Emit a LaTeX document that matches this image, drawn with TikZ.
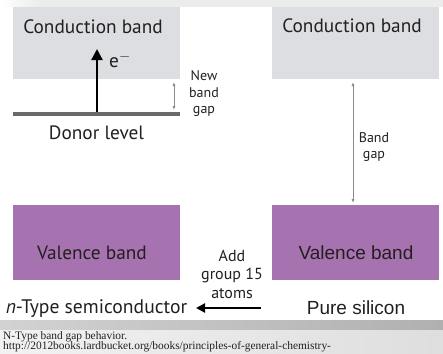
\documentclass[tikz,border=0pt]{standalone}
\usepackage{fontspec}
\setmainfont{Liberation Serif}
\newfontfamily\myr{PT Sans}
\newfontfamily\ari{Liberation Sans}
\usetikzlibrary{arrows.meta}
\definecolor{cbgray}{HTML}{DCDEE2}
\definecolor{vbpurp}{HTML}{A673B0}
\definecolor{donorgray}{HTML}{6A6A6A}
\definecolor{gaparrow}{HTML}{8A8A8A}
\definecolor{txt}{HTML}{231F20}
\tikzset{
  cband/.style={fill=cbgray, draw=none, minimum width=167pt, minimum height=72pt, inner sep=0pt},
  vband/.style={fill=vbpurp, draw=none, minimum width=167pt, minimum height=75pt, inner sep=0pt},
  mlabel/.style={font=\myr\fontsize{19.3}{22}\selectfont, inner sep=0pt, text=txt},
  alabel/.style={font=\ari\fontsize{19}{21}\selectfont, inner sep=0pt, text=txt},
  slabel/.style={font=\myr\fontsize{14}{16.5}\selectfont, inner sep=0pt, align=center, text=txt},
  gapar/.style={draw=gaparrow, line width=0.8pt, {Latex[length=4pt,width=3pt]}-{Latex[length=4pt,width=3pt]}},
  bigar/.style={draw=black, line width=2.2pt, -{Triangle[length=9pt,width=9pt]}},
  caption/.style={font=\fontsize{11.4}{12}\selectfont, inner sep=0pt, anchor=base west, text=txt}
}
\begin{document}
\begin{tikzpicture}[x=1pt,y=-1pt]
\useasboundingbox (0,0) rectangle (443,353);
% top strip
\shade[left color=white, right color=gray!15] (0,0) rectangle (40,7);
\fill[gray!15] (40,0) rectangle (443,7);
% bands
\node[cband] (lcb) at (96.5,43) {};
\node[cband] (rcb) at (355.5,43) {};
\node[vband] (lvb) at (96.5,242.5) {};
\node[vband] (rvb) at (355.5,242.5) {};
% band labels
\node[mlabel] (lcbt) at (93,27) {Conduction band};
\node[mlabel] (rcbt) at (352,26) {Conduction band};
\node[mlabel] (lvbt) at (92,253) {Valence band};
\node[alabel] (rvbt) at (356,253) {Valence band};
% donor level
\coordinate (dl1) at (13,114);
\coordinate (dl2) at (180,114);
\draw[donorgray, line width=3.5pt] (dl1) -- (dl2);
\node[mlabel] (dlt) at (96.5,133) {Donor level};
% electron arrow
\coordinate (ea1) at (97,112);
\coordinate (ea2) at (97,49);
\draw[bigar, -{Triangle[length=11pt,width=11pt]}] (ea1) -- (ea2);
\node[mlabel, anchor=west] (et) at (109,60) {e$^{-}$};
% new band gap
\coordinate (ng1) at (174,82);
\coordinate (ng2) at (174,110);
\draw[gapar] (ng1) -- (ng2);
\node[slabel] (ngt) at (204,94) {New\\band\\gap};
% band gap
\coordinate (bg1) at (353,82);
\coordinate (bg2) at (353,203);
\draw[gapar] (bg1) -- (bg2);
\node[slabel] (bgt) at (374,147) {Band\\gap};
% add group 15 atoms
\node[slabel, font=\myr\fontsize{16}{18.5}\selectfont] (addt) at (232,274) {Add\\group 15\\atoms};
\coordinate (aa1) at (261,308);
\coordinate (aa2) at (196,308);
\draw[bigar] (aa1) -- (aa2);
% bottom labels
\node[mlabel, font=\myr\fontsize{19.6}{23}\selectfont] (nt) at (96.5,309) {\textit{n}-Type semiconductor};
\node[alabel] (pst) at (356,308) {Pure silicon};
% caption strip
\shade[left color=gray!35, right color=gray!62] (0,320) rectangle (443,330);
\shade[left color=gray!10, right color=gray!26] (0,330) rectangle (443,353);
\node[caption] (cap1) at (3,339.5) {N-Type band gap behavior.};
\node[caption] (cap2) at (3,349.8) {http://2012books.lardbucket.org/books/principles-of-general-chemistry-};
\end{tikzpicture}
\end{document}
